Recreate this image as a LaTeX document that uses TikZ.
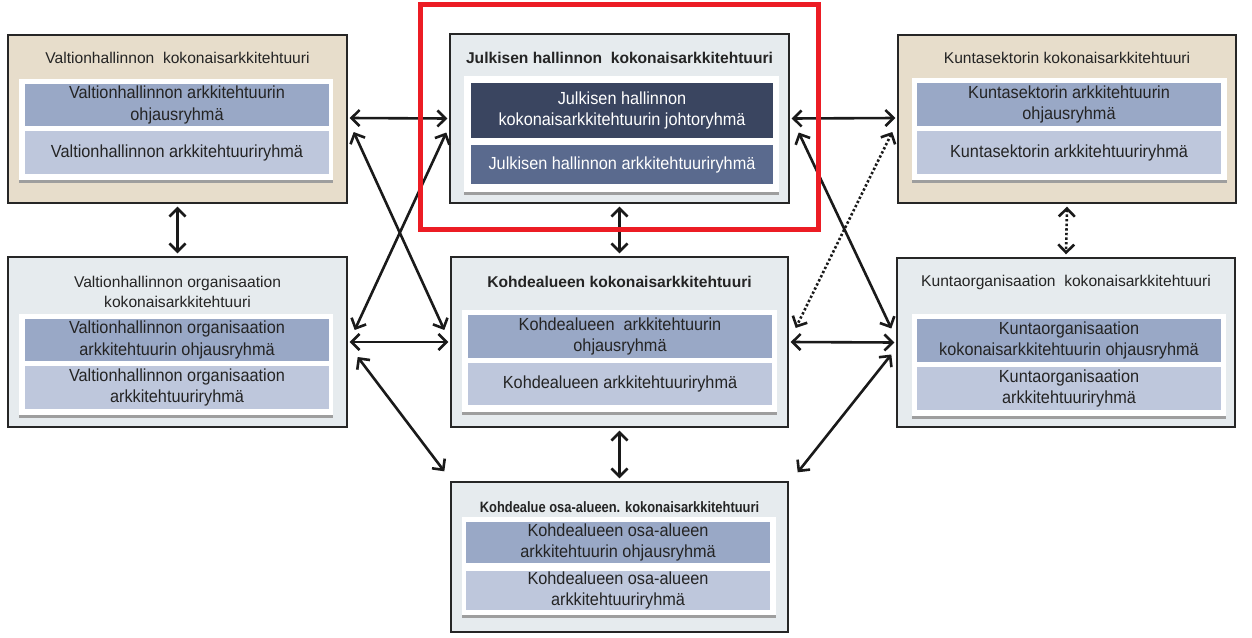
\documentclass[tikz,border=0pt]{standalone}
\usepackage{fontspec}
\setmainfont{Liberation Sans}
\newfontfamily\bandfont[FakeStretch=0.93]{Liberation Sans}
\newfontfamily\narrowfont[FakeStretch=0.86]{Liberation Sans}
\usetikzlibrary{arrows.meta,calc,shadows}
\definecolor{tanbg}{HTML}{E7DDCB}
\definecolor{greybg}{HTML}{E6EBEE}
\definecolor{banddark}{HTML}{99A8C6}
\definecolor{bandlight}{HTML}{BEC7DC}
\definecolor{jhdark}{HTML}{3A4560}
\definecolor{jhmed}{HTML}{5A6A8E}
\definecolor{txt}{HTML}{242424}
\definecolor{hlred}{HTML}{EC1C24}
\definecolor{arrowc}{HTML}{1A1A1A}
\begin{document}
\begin{tikzpicture}[x=1pt,y=-1pt,
  outer/.style={draw=black!85, line width=1.4pt, inner sep=0pt},
  panel/.style={fill=white, inner sep=0pt,
    drop shadow={shadow xshift=0pt, shadow yshift=-3pt, fill=black!38, opacity=1}},
  bandbox/.style={inner sep=0pt, align=center, text=txt,
    font=\bandfont\fontsize{17.5}{21.5}\selectfont},
  bandA/.style={bandbox, fill=banddark},
  bandB/.style={bandbox, fill=bandlight},
  titlebox/.style={inner sep=0pt, align=center, text=txt,
    font=\fontsize{15.6}{20}\selectfont},
  btitle/.style={titlebox, font=\fontsize{15.6}{20}\selectfont\bfseries},
  arr/.style={draw=arrowc, line width=2.6pt,
    {Straight Barb[length=8pt,width=16pt]}-{Straight Barb[length=8pt,width=16pt]}},
  darr/.style={arr, dash pattern=on 2.4pt off 2.2pt}
]
\useasboundingbox[fill=white] (0,0) rectangle (1252,637);

% outer boxes
\node[outer, fill=tanbg, minimum width=339pt, minimum height=168pt] (vh) at (177.5,119) {};
\node[outer, fill=greybg, minimum width=339pt, minimum height=169pt] (jh) at (619.5,118.5) {};
\node[outer, fill=tanbg, minimum width=338pt, minimum height=168pt] (ks) at (1067,119) {};
\node[outer, fill=greybg, minimum width=339pt, minimum height=170pt] (vo) at (177.5,342) {};
\node[outer, fill=greybg, minimum width=337pt, minimum height=170pt] (ka) at (619.5,342) {};
\node[outer, fill=greybg, minimum width=338pt, minimum height=169pt] (ko) at (1066,342.5) {};
\node[outer, fill=greybg, minimum width=337pt, minimum height=150pt] (koa) at (619.5,557) {};

% titles
\node[titlebox] (vht) at (177.5,58) {Valtionhallinnon\ \ kokonaisarkkitehtuuri};
\node[btitle] (jht) at (619.5,58) {Julkisen hallinnon\ \ kokonaisarkkitehtuuri};
\node[titlebox] (kst) at (1067,58) {Kuntasektorin kokonaisarkkitehtuuri};
\node[titlebox] (vot) at (177.5,292) {Valtionhallinnon organisaation\\kokonaisarkkitehtuuri};
\node[btitle] (kat) at (619.5,282) {Kohdealueen kokonaisarkkitehtuuri};
\node[titlebox] (kot) at (1066,282) {Kuntaorganisaation\ \ kokonaisarkkitehtuuri};
\node[titlebox, font=\narrowfont\fontsize{15}{18}\selectfont\bfseries] (koat) at (619.5,507) {Kohdealue osa-alueen. kokonaisarkkitehtuuri};

% white panels
\node[panel, minimum width=314pt, minimum height=101pt] (vhp) at (176,129.5) {};
\node[panel, minimum width=315pt, minimum height=116pt] (jhp) at (621.5,134) {};
\node[panel, minimum width=315pt, minimum height=102pt] (ksp) at (1069.5,129) {};
\node[panel, minimum width=314pt, minimum height=101pt] (vop) at (176,364.5) {};
\node[panel, minimum width=315pt, minimum height=102pt] (kap) at (619.5,361) {};
\node[panel, minimum width=314pt, minimum height=102pt] (kop) at (1069,365) {};
\node[panel, minimum width=314pt, minimum height=98pt] (koap) at (619,566) {};

% bands
\node[bandA, minimum width=304pt, minimum height=42pt] (vh1) at (177,105) {Valtionhallinnon arkkitehtuurin\\ohjausryhmä};
\node[bandB, minimum width=304pt, minimum height=43pt] (vh2) at (177,152.5) {Valtionhallinnon arkkitehtuuriryhmä};
\node[bandbox, fill=jhdark, text=white, minimum width=302pt, minimum height=55pt] (jh1) at (622,110.5) {Julkisen hallinnon\\kokonaisarkkitehtuurin johtoryhmä};
\node[bandbox, fill=jhmed, text=white, minimum width=302pt, minimum height=39pt] (jh2) at (622,164.5) {Julkisen hallinnon arkkitehtuuriryhmä};
\node[bandA, minimum width=304pt, minimum height=43pt] (ks1) at (1069,104.5) {Kuntasektorin arkkitehtuurin\\ohjausryhmä};
\node[bandB, minimum width=304pt, minimum height=43pt] (ks2) at (1069,152.5) {Kuntasektorin arkkitehtuuriryhmä};
\node[bandA, minimum width=304pt, minimum height=42pt] (vo1) at (177,340) {Valtionhallinnon organisaation\\arkkitehtuurin ohjausryhmä};
\node[bandB, minimum width=304pt, minimum height=43pt] (vo2) at (177,387.5) {Valtionhallinnon organisaation\\arkkitehtuuriryhmä};
\node[bandA, minimum width=304pt, minimum height=43pt] (ka1) at (620,336.5) {Kohdealueen\ \ arkkitehtuurin\\ohjausryhmä};
\node[bandB, minimum width=304pt, minimum height=42pt] (ka2) at (620,384) {Kohdealueen arkkitehtuuriryhmä};
\node[bandA, minimum width=304pt, minimum height=43pt] (ko1) at (1069,340.5) {Kuntaorganisaation\\kokonaisarkkitehtuurin ohjausryhmä};
\node[bandB, minimum width=304pt, minimum height=43pt] (ko2) at (1069,388.5) {Kuntaorganisaation\\arkkitehtuuriryhmä};
\node[bandA, minimum width=304pt, minimum height=41pt] (koa1) at (618,542.5) {Kohdealueen osa-alueen\\arkkitehtuurin ohjausryhmä};
\node[bandB, minimum width=304pt, minimum height=39pt] (koa2) at (618,590.5) {Kohdealueen osa-alueen\\arkkitehtuuriryhmä};

% straight connectors
\draw[arr] ($(vh.east)+(2,-1)$) -- ($(jh.west)+(-2,0)$);
\draw[arr] ($(jh.east)+(2,0)$) -- ($(ks.west)+(-2,-1)$);
\draw[arr] ($(vo.east)+(2,0)$) -- ($(ka.west)+(-2,0)$);
\draw[arr] ($(ka.east)+(2,0)$) -- ($(ko.west)+(-2,0)$);
\draw[arr] ($(vh.south)+(0,3)$) -- ($(vo.north)+(0,-3)$);
\draw[arr] ($(jh.south)+(0,3)$) -- ($(ka.north)+(0,-3)$);
\draw[darr] ($(ks.south)+(0,3)$) -- ($(ko.north)+(0,-3)$);
\draw[arr] ($(ka.south)+(0,3)$) -- ($(koa.north)+(0,-3)$);

% diagonal connectors
\draw[arr] ($(vh.east)+(6,13)$) -- ($(ka.west)+(-6,-12)$);
\draw[arr] ($(jh.west)+(-3,14)$) -- ($(vo.east)+(7,-12)$);
\draw[arr] ($(vo.east)+(10,15)$) -- ($(koa.north west)+(-6,-10)$);
\draw[arr] ($(jh.east)+(9,14)$) -- ($(ko.west)+(-5,-14)$);
\draw[darr] ($(ks.west)+(-5,13)$) -- ($(ka.east)+(7,-14)$);
\draw[arr] ($(ko.west)+(-5,12)$) -- ($(koa.north east)+(9,-9)$);

% highlight frame
\node[draw=hlred, line width=5pt, inner sep=0pt, minimum width=398.5pt, minimum height=225pt] (hl) at (619.25,117) {};
\end{tikzpicture}
\end{document}
